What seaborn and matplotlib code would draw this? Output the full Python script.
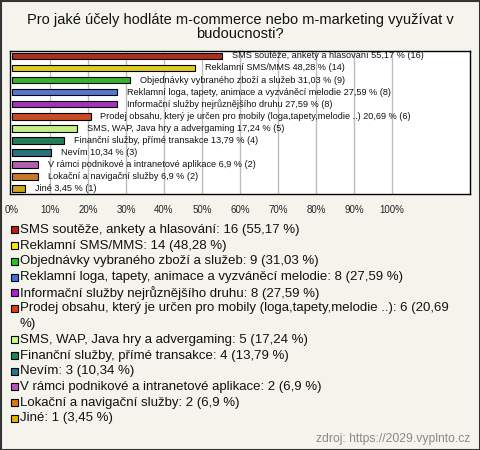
import matplotlib
matplotlib.use("Agg")
import matplotlib.pyplot as plt
import seaborn as sns
import pandas as pd
from matplotlib.patches import Rectangle

# values
answers = [
    "SMS soutěže, ankety a hlasování",
    "Reklamní SMS/MMS",
    "Objednávky vybraného zboží a služeb",
    "Reklamní loga, tapety, animace a vyzváněcí melodie",
    "Informační služby nejrůznějšího druhu",
    "Prodej obsahu, který je určen pro mobily (loga,tapety,melodie ..)",
    "SMS, WAP, Java hry a advergaming",
    "Finanční služby, přímé transakce",
    "Nevím",
    "V rámci podnikové a intranetové aplikace",
    "Lokační a navigační služby",
    "Jiné",
]
counts = [16, 14, 9, 8, 8, 6, 5, 4, 3, 2, 2, 1]
percents = [55.17, 48.28, 31.03, 27.59, 27.59, 20.69, 17.24, 13.79, 10.34, 6.9, 6.9, 3.45]
colors = ["#c41a0a", "#ffe600", "#1dc81d", "#3c6fe8", "#b41cd2", "#e63c0a",
          "#c8ff78", "#178a5a", "#1e7a8c", "#c050c0", "#e6780a", "#e6b400"]
ticks = list(range(0, 101, 10))

df = pd.DataFrame({"answer": answers, "count": counts, "pct": percents})

sns.set_style("white")
plt.rcParams["font.family"] = ["Liberation Sans", "DejaVu Sans"]

bg = "#f4f3ec"
fig = plt.figure(figsize=(4.8, 4.5), dpi=100, facecolor=bg)
W, H = 480, 450

ax = fig.add_axes([10 / W, 1 - 194 / H, 460 / W, 143.5 / H])
ax.set_facecolor("white")
sns.barplot(data=df, x="pct", y="answer", hue="answer", palette=colors,
            legend=False, orient="h", width=0.55, edgecolor="black",
            linewidth=0.8, ax=ax, zorder=3)

for t in ticks[1:]:
    ax.axvline(t, color="#bdbdbd", lw=1, zorder=1)

ax.set_xlim(-0.5, 120.5)
ax.set_ylim(11.45, -0.45)
ax.set_xticks(ticks)
ax.set_xticklabels([f"{t}%" for t in ticks], fontsize=7)
ax.tick_params(axis="x", length=0, pad=8)
ax.set_yticks([])
ax.set_xlabel("")
ax.set_ylabel("")
for s in ax.spines.values():
    s.set_color("black")
    s.set_linewidth(1)

for i, (a, c, p) in enumerate(zip(answers, counts, percents)):
    ax.text(p + 2.6, i, f"{a} {str(p).replace('.', ',')} % ({c})",
            fontsize=6.6, va="center", ha="left", color="#111111", zorder=4)

fig.text(0.5, 1 - 27 / H, "Pro jaké účely hodláte m-commerce nebo m-marketing využívat v\nbudoucnosti?",
         ha="center", va="center", fontsize=10.5, linespacing=1.0, color="#111111")

# legend drawn row by row
y = 230
for a, c, p, col in zip(answers, counts, percents, colors):
    label = f"{a}: {c} ({str(p).replace('.', ',')} %)"
    if len(label) > 70:
        label = label[:-2] + "\n%)"
    fig.patches.append(Rectangle((10.5 / W, 1 - (y + 3.5) / H), 7 / W, 7 / H,
                                 transform=fig.transFigure, facecolor=col,
                                 edgecolor="black", lw=0.8))
    lines = label.split("\n")
    for k, ln in enumerate(lines):
        fig.text(20 / W, 1 - (y + 15.7 * k) / H, ln, ha="left", va="center",
                 fontsize=9.5, color="#111111")
    y += 15.7 * len(lines)

fig.text(470 / W, 1 - 439 / H, "zdroj: https://2029.vyplnto.cz", ha="right",
         va="center", fontsize=8.7, color="#8a8a8a")

fig.patches.append(Rectangle((0.5 / W, 0.5 / H), 479 / W, 449 / H, transform=fig.transFigure,
                             facecolor="none", edgecolor="#333333", lw=1.5))

fig.savefig("out.png", dpi=100, facecolor=bg)
